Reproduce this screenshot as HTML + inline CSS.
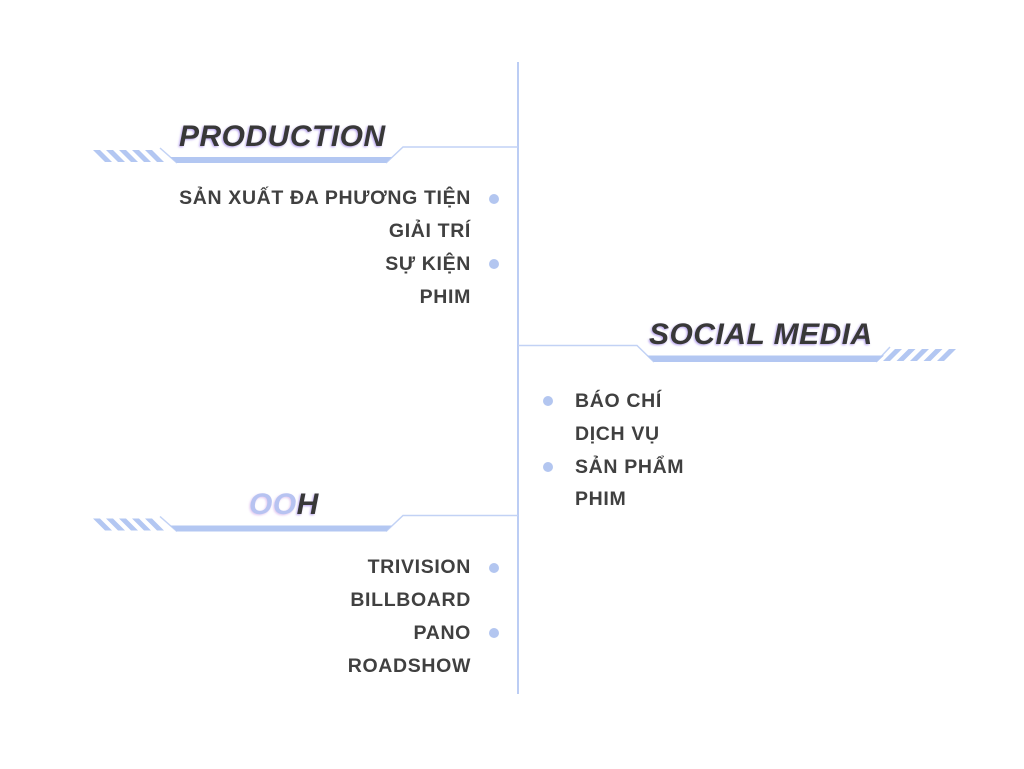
<!DOCTYPE html>
<html><head><meta charset="utf-8"><style>
html,body{margin:0;padding:0;background:#fff;}
body{width:1024px;height:769px;position:relative;overflow:hidden;font-family:"Liberation Sans",Arial,sans-serif;}
svg{position:absolute;left:0;top:0;}
.t{position:absolute;font-weight:bold;font-style:italic;font-size:30px;line-height:30px;color:#383838;white-space:nowrap;letter-spacing:0.5px;text-shadow:-1px 1px 2px rgba(150,120,230,0.7);}
.i{position:absolute;font-weight:bold;font-size:19.5px;line-height:19.5px;color:#404040;white-space:nowrap;letter-spacing:0.65px;}
.r{right:553px;text-align:right;}
.l{left:575px;}
</style></head><body>
<svg width="1024" height="769" viewBox="0 0 1024 769">
  <line x1="518" y1="62" x2="518" y2="694" stroke="#bccdf4" stroke-width="2"/>
  <!-- PRODUCTION -->
  <g>
    <polyline points="518,147 403,147 386,163" fill="none" stroke="#c2d2f5" stroke-width="1.5"/>
    <line x1="160" y1="148" x2="177" y2="163" stroke="#c2d2f5" stroke-width="1.5"/>
    <polygon points="170,157 392,157 386,163 177,163" fill="#b3c7f2"/>
    <g fill="#b3c7f2">
      <polygon points="93,150 100,150 112,162 105,162"/>
      <polygon points="106,150 113,150 125,162 118,162"/>
      <polygon points="119,150 126,150 138,162 131,162"/>
      <polygon points="132,150 139,150 151,162 144,162"/>
      <polygon points="145,150 152,150 164,162 157,162"/>
    </g>
  </g>
  <!-- OOH -->
  <g transform="translate(0,368.5)">
    <polyline points="518,147 403,147 386,163" fill="none" stroke="#c2d2f5" stroke-width="1.5"/>
    <line x1="160" y1="148" x2="177" y2="163" stroke="#c2d2f5" stroke-width="1.5"/>
    <polygon points="170,157 392,157 386,163 177,163" fill="#b3c7f2"/>
    <g fill="#b3c7f2">
      <polygon points="93,150 100,150 112,162 105,162"/>
      <polygon points="106,150 113,150 125,162 118,162"/>
      <polygon points="119,150 126,150 138,162 131,162"/>
      <polygon points="132,150 139,150 151,162 144,162"/>
      <polygon points="145,150 152,150 164,162 157,162"/>
    </g>
  </g>
  <!-- SOCIAL MEDIA -->
  <g>
    <polyline points="518,345.5 637,345.5 654,362" fill="none" stroke="#c2d2f5" stroke-width="1.5"/>
    <line x1="876" y1="362" x2="890" y2="347" stroke="#c2d2f5" stroke-width="1.5"/>
    <polygon points="647,355.5 884,355.5 877,362 654,362" fill="#b3c7f2"/>
    <g fill="#b3c7f2">
      <polygon points="883,361 890,361 902,349 895,349"/>
      <polygon points="896.5,361 903.5,361 915.5,349 908.5,349"/>
      <polygon points="910,361 917,361 929,349 922,349"/>
      <polygon points="923.5,361 930.5,361 942.5,349 935.5,349"/>
      <polygon points="937,361 944,361 956,349 949,349"/>
    </g>
  </g>
  <!-- bullets -->
  <g fill="#b3c6f0">
    <circle cx="494" cy="199" r="5"/>
    <circle cx="494" cy="264" r="5"/>
    <circle cx="548" cy="401" r="5"/>
    <circle cx="548" cy="467" r="5"/>
    <circle cx="494" cy="568" r="5"/>
    <circle cx="494" cy="633" r="5"/>
  </g>
</svg>

<div class="t" style="left:179px;top:122px;">PRODUCTION</div>
<div class="t" style="left:649px;top:320px;">SOCIAL MEDIA</div>
<div class="t" style="left:249px;top:490px;"><span style="color:#b7c3f1;text-shadow:-1px 1px 2px rgba(205,160,230,0.6);">OO</span>H</div>

<div class="i r" style="top:188.5px;">SẢN XUẤT ĐA PHƯƠNG TIỆN</div>
<div class="i r" style="top:221.5px;">GIẢI TRÍ</div>
<div class="i r" style="top:254.5px;">SỰ KIỆN</div>
<div class="i r" style="top:287.5px;">PHIM</div>

<div class="i l" style="top:391.5px;">BÁO CHÍ</div>
<div class="i l" style="top:424.5px;">DỊCH VỤ</div>
<div class="i l" style="top:457.5px;">SẢN PHẨM</div>
<div class="i l" style="top:489.5px;">PHIM</div>

<div class="i r" style="top:557.5px;">TRIVISION</div>
<div class="i r" style="top:590.5px;">BILLBOARD</div>
<div class="i r" style="top:623.5px;">PANO</div>
<div class="i r" style="top:656.5px;">ROADSHOW</div>
</body></html>
